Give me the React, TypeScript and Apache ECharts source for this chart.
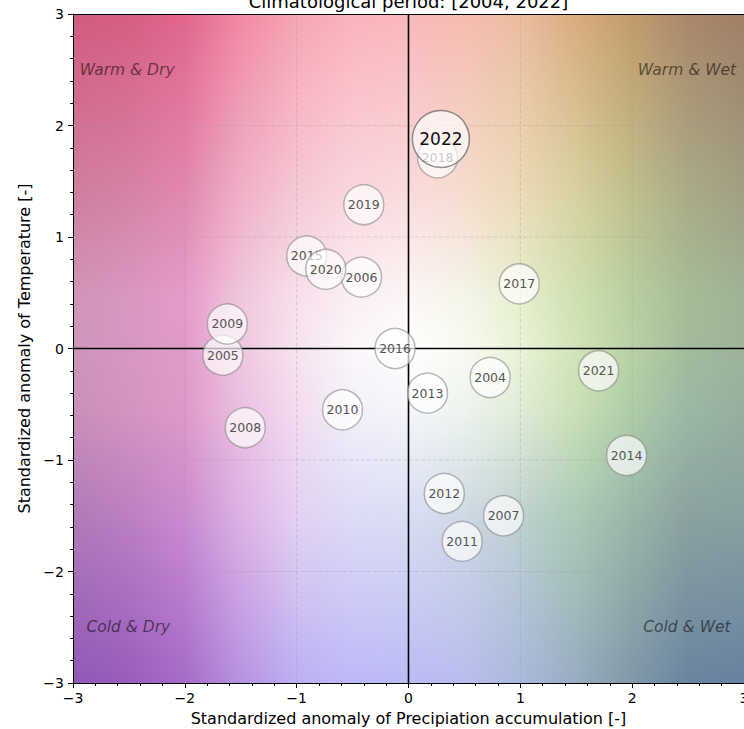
import React, { useEffect, useRef } from "react";
import * as echarts from "echarts";

// ---- Data ----
const YEARS = [2004, 2005, 2006, 2007, 2008, 2009, 2010, 2011, 2012, 2013, 2014, 2015, 2016, 2017, 2018, 2019, 2020, 2021, 2022];
const PRECIP_ANOM = [0.73, -1.66, -0.42, 0.85, -1.46, -1.62, -0.59, 0.48, 0.32, 0.17, 1.95, -0.91, -0.12, 0.99, 0.26, -0.40, -0.74, 1.70, 0.29];
const TEMP_ANOM = [-0.26, -0.06, 0.64, -1.50, -0.71, 0.22, -0.55, -1.73, -1.30, -0.40, -0.96, 0.83, 0.00, 0.58, 1.71, 1.29, 0.71, -0.20, 1.88];
const HIGHLIGHT_YEAR = 2022;

const GRID_TICKS = [-2, -1, 1, 2];

const QUAD_TEXT = ["Warm & Dry", "Warm & Wet", "Cold & Dry", "Cold & Wet"];
const QUAD_X = [-2.94, 2.93, -2.88, 2.88];
const QUAD_Y = [2.5, 2.5, -2.5, -2.5];
const QUAD_ALIGN = ["left", "right", "left", "right"];

const TITLE = "Climatological period: [2004, 2022]";
const X_NAME = "Standardized anomaly of Precipiation accumulation [-]";
const Y_NAME = "Standardized anomaly of Temperature [-]";

// ---- Background bivariate colour map (sampled) ----
const BG_X = [-3, -2.5, -2, -1.5, -1, -0.5, 0, 0.5, 1, 1.5, 2, 2.5, 3];
const BG_ROW_Y = [3, 1.4, 0.45, 0, -0.55, -1.55, -3];
const BG_ROWS = [
  ["#d25c80", "#d65e82", "#e3658d", "#f08aa3", "#f7a5b3", "#fab3bc", "#f9b8bb", "#f5bcb1", "#ebbd9e", "#d9ab80", "#c29b6c", "#aa876a", "#a07f66"],
  ["#cf7ea0", "#d682a6", "#e288b0", "#efb0c8", "#f6c8d5", "#fad6de", "#fadbdc", "#f6dccf", "#ebdab6", "#d7d19f", "#c0bf8b", "#aaab86", "#a19f84"],
  ["#d095b8", "#d898c0", "#e49cc8", "#f0c6de", "#f7e0ec", "#fbeff4", "#fcf6f6", "#f5f6e8", "#e6efcf", "#cfe1b0", "#b7cfa0", "#a5bc98", "#9fb497"],
  ["#cd95ba", "#d698c2", "#e19bc8", "#eec6e0", "#f6e4f0", "#fbf6fa", "#ffffff", "#f8faf0", "#e9f3d8", "#d0e4b6", "#b8d1a5", "#a3bb9c", "#9db49a"],
  ["#c990b8", "#d494c0", "#dd9ac8", "#ebc0e0", "#f2dcf0", "#f3f0fa", "#f4f6fa", "#eef4ee", "#e0ecd6", "#c8e0b8", "#afcca8", "#9cb8a4", "#97ae9e"],
  ["#b078b8", "#ba7ec2", "#c88ad0", "#dbb0e6", "#e2d0f2", "#dcdaf6", "#d8dcf2", "#ccd8e4", "#bcd0d0", "#aac8b4", "#9ab4a8", "#8aa0a0", "#86a0a0"],
  ["#9058b8", "#9a5cbc", "#a86ac8", "#b594e0", "#bdaff2", "#bdb9f8", "#bcbbf5", "#b8bdee", "#aab8dc", "#98acc0", "#8098a8", "#6a84a0", "#6880a0"],
];
const N_BANDS = 160;

const FONT = "DejaVu Sans";

function hexToRgb(h: string): number[] {
  const v = parseInt(h.slice(1), 16);
  return [(v >> 16) & 255, (v >> 8) & 255, v & 255];
}
const BG_RGB = BG_ROWS.map((r) => r.map(hexToRgb));

function colorAt(col: number, y: number): string {
  let i = 0;
  while (i < BG_ROW_Y.length - 2 && y < BG_ROW_Y[i + 1]) i++;
  const ya = BG_ROW_Y[i];
  const yb = BG_ROW_Y[i + 1];
  let t = (ya - y) / (ya - yb);
  t = Math.max(0, Math.min(1, t));
  const a = BG_RGB[i][col];
  const b = BG_RGB[i + 1][col];
  const c = a.map((v, k) => Math.round(v + (b[k] - v) * t));
  return `rgb(${c[0]},${c[1]},${c[2]})`;
}

const fmt = (v: number) => (v < 0 ? "\u2212" + Math.abs(v) : String(v));

export default function App() {
  const ref = useRef<HTMLDivElement>(null);

  useEffect(() => {
    if (!ref.current) return;
    const chart = echarts.init(ref.current, undefined, { renderer: "svg" });

    const bandData = Array.from({ length: N_BANDS }, (_, i) => [
      -3 + (6 * i) / N_BANDS,
      -3 + (6 * (i + 1)) / N_BANDS,
    ]);
    const gridData: number[][] = [];
    GRID_TICKS.forEach((v) => {
      gridData.push([v, 0, 0]);
      gridData.push([v, 1, 0]);
    });
    gridData.push([0, 0, 1]);
    gridData.push([0, 1, 1]);

    const pointData = YEARS.map((y, i) => [PRECIP_ANOM[i], TEMP_ANOM[i], y]);
    const quadData = QUAD_TEXT.map((t, i) => [QUAD_X[i], QUAD_Y[i], i]);

    const axisCommon = {
      type: "value" as const,
      min: -3,
      max: 3,
      interval: 1,
      z: 10,
      splitLine: { show: false },
    };

    const option: any = {
      animation: false,
      backgroundColor: "#ffffff",
      grid: { left: 73, top: 14, width: 671, height: 669, containLabel: false, outerBoundsMode: "none" },
      graphic: [
        {
          type: "text",
          x: 408.5,
          y: 10,
          style: {
            text: TITLE,
            align: "center",
            verticalAlign: "bottom",
            font: `18px '${FONT}'`,
            fill: "#000",
          },
        },
      ],
      xAxis: [
        {
          ...axisCommon,
          position: "bottom",
          axisLine: { show: true, onZero: false, lineStyle: { color: "#000", width: 1 } },
          axisTick: { show: true, inside: false, length: 5, lineStyle: { color: "#000" } },
          minorTick: { show: true, splitNumber: 5, length: 3, lineStyle: { color: "#000" } },
          axisLabel: { formatter: fmt, fontSize: 14, color: "#000", margin: 8, fontFamily: FONT },
          name: X_NAME,
          nameLocation: "middle",
          nameGap: 27,
          nameTextStyle: { fontSize: 16, color: "#000", fontFamily: FONT },
        },
        {
          ...axisCommon,
          position: "top",
          axisLine: { show: true, onZero: false, lineStyle: { color: "#000", width: 1 } },
          axisTick: { show: false },
          axisLabel: { show: false },
        },
      ],
      yAxis: [
        {
          ...axisCommon,
          position: "left",
          axisLine: { show: true, onZero: false, lineStyle: { color: "#000", width: 1 } },
          axisTick: { show: true, inside: false, length: 5, lineStyle: { color: "#000" } },
          minorTick: { show: true, splitNumber: 5, length: 3, lineStyle: { color: "#000" } },
          axisLabel: { formatter: fmt, fontSize: 14, color: "#000", margin: 9, fontFamily: FONT },
          name: Y_NAME,
          nameLocation: "middle",
          nameGap: 37,
          nameTextStyle: { fontSize: 16, color: "#000", fontFamily: FONT },
        },
        {
          ...axisCommon,
          position: "right",
          axisLine: { show: true, onZero: false, lineStyle: { color: "#000", width: 1 } },
          axisTick: { show: false },
          axisLabel: { show: false },
        },
      ],
      series: [
        {
          type: "custom",
          z: 1,
          silent: true,
          clip: true,
          data: bandData,
          renderItem: (_p: any, api: any) => {
            const y0 = api.value(0);
            const y1 = api.value(1);
            const pTop = api.coord([-3, y1]);
            const pBot = api.coord([3, y0]);
            const yc = (y0 + y1) / 2;
            const stops = BG_X.map((x, j) => ({ offset: (x + 3) / 6, color: colorAt(j, yc) }));
            return {
              type: "rect",
              shape: { x: pTop[0], y: pTop[1] - 0.6, width: pBot[0] - pTop[0], height: pBot[1] - pTop[1] + 1.2 },
              style: { fill: new echarts.graphic.LinearGradient(0, 0, 1, 0, stops) },
            };
          },
        },
        {
          type: "custom",
          z: 2,
          silent: true,
          data: gridData,
          renderItem: (_p: any, api: any) => {
            const v = api.value(0);
            const orient = api.value(1);
            const zero = api.value(2) === 1;
            const a = orient === 0 ? api.coord([v, -3]) : api.coord([-3, v]);
            const b = orient === 0 ? api.coord([v, 3]) : api.coord([3, v]);
            return {
              type: "line",
              shape: { x1: a[0], y1: a[1], x2: b[0], y2: b[1] },
              style: zero
                ? { stroke: "#000", lineWidth: 1.6 }
                : { stroke: "rgba(150,150,150,0.4)", lineWidth: 0.8, lineDash: [4, 2] },
            };
          },
        },
        {
          type: "custom",
          z: 3,
          silent: true,
          data: quadData,
          renderItem: (_p: any, api: any) => {
            const i = api.value(2);
            const p = api.coord([api.value(0), api.value(1)]);
            return {
              type: "text",
              style: {
                text: QUAD_TEXT[i],
                x: p[0],
                y: p[1],
                align: QUAD_ALIGN[i],
                verticalAlign: "middle",
                font: `italic 15.5px '${FONT}'`,
                fill: "rgba(0,0,0,0.55)",
              },
            };
          },
        },
        {
          type: "custom",
          z: 4,
          silent: true,
          data: pointData,
          renderItem: (_p: any, api: any) => {
            const p = api.coord([api.value(0), api.value(1)]);
            const yr = api.value(2);
            const hi = yr === HIGHLIGHT_YEAR;
            return {
              type: "group",
              children: [
                {
                  type: "circle",
                  shape: { cx: p[0], cy: p[1], r: hi ? 28.5 : 20 },
                  style: {
                    fill: "rgba(255,255,255,0.68)",
                    stroke: hi ? "rgba(100,100,100,0.7)" : "rgba(130,130,130,0.55)",
                    lineWidth: 1.5,
                  },
                },
                {
                  type: "text",
                  style: {
                    text: String(yr),
                    x: p[0],
                    y: p[1],
                    align: "center",
                    verticalAlign: "middle",
                    font: hi ? `17px '${FONT}'` : `12.5px '${FONT}'`,
                    fill: hi ? "#111" : "#555",
                  },
                },
              ],
            };
          },
        },
      ],
    };

    chart.setOption(option);
    return () => chart.dispose();
  }, []);

  return (
    <div
      ref={ref}
      style={{ position: "fixed", left: 0, top: 0, width: 744, height: 729 }}
    />
  );
}
